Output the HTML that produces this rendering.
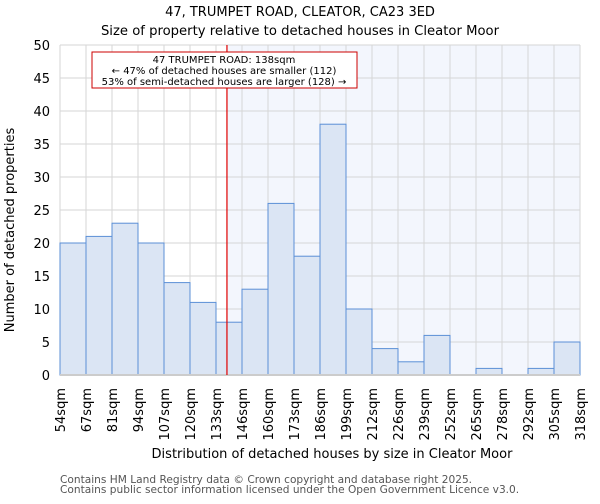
<!DOCTYPE html>
<html><head><meta charset="utf-8"><style>
body{margin:0;background:#fff;font-family:"DejaVu Sans","Liberation Sans",sans-serif}
</style></head><body>
<svg width="600" height="500" font-family="DejaVu Sans, Liberation Sans, sans-serif">
<text x="300" y="16" text-anchor="middle" font-size="13">47, TRUMPET ROAD, CLEATOR, CA23 3ED</text>
<text x="300" y="35" text-anchor="middle" font-size="13.2">Size of property relative to detached houses in Cleator Moor</text>
<g id="plot"></g>
<text x="332" y="458" text-anchor="middle" font-size="13">Distribution of detached houses by size in Cleator Moor</text>
<text transform="translate(14,230) rotate(-90)" text-anchor="middle" font-size="13">Number of detached properties</text>
<text x="60" y="483" font-size="10.6" fill="#555">Contains HM Land Registry data © Crown copyright and database right 2025.</text>
<text x="60" y="493" font-size="10.6" fill="#555">Contains public sector information licensed under the Open Government Licence v3.0.</text>
</svg>
<script>
const binEdges=["54sqm","67sqm","81sqm","94sqm","107sqm","120sqm","133sqm","146sqm","160sqm","173sqm","186sqm","199sqm","212sqm","226sqm","239sqm","252sqm","265sqm","278sqm","292sqm","305sqm","318sqm"];
const counts=[20,21,23,20,14,11,8,13,26,18,38,10,4,2,6,0,1,0,1,5];
const yTicks=[0,5,10,15,20,25,30,35,40,45,50];
const markerSqm=138;
const minSqm=54, maxSqm=318;
const X0=60,X1=580,Y0=375,Y1=45;
const ns="http://www.w3.org/2000/svg";
const g=document.getElementById('plot');
const y=v=>Y0-(v/50)*(Y0-Y1);
const bw=(X1-X0)/counts.length;
const xi=i=>X0+i*bw;
const xs=s=>X0+(s-minSqm)/(maxSqm-minSqm)*(X1-X0)+1.5;
function mk(t,a){const e=document.createElementNS(ns,t);for(const k in a)e.setAttribute(k,a[k]);g.appendChild(e);return e;}
const mx=xs(markerSqm);
let bg=mk('rect',{x:mx,y:Y1,width:X1-mx,height:Y0-Y1,fill:'#f3f6fd'});


yTicks.forEach(t=>{
 let l=mk('line',{x1:X0,x2:X1,y1:y(t),y2:y(t),stroke:'#d6d6d6'});
 
 
 let tx=mk('text',{x:X0-10,y:y(t)+5,'text-anchor':'end','font-size':13});
 tx.textContent=t;
 
 
});
binEdges.forEach((s,i)=>{
 let l=mk('line',{x1:xi(i),x2:xi(i),y1:Y1,y2:Y0,stroke:'#d6d6d6'});
 
 
 let tx=mk('text',{transform:`translate(${xi(i)+5},388) rotate(-90)`,'text-anchor':'end','font-size':13});
 tx.textContent=s;
 
 
});
counts.forEach((c,i)=>{
 let r=mk('rect',{x:xi(i),y:y(c),width:bw,height:Y0-y(c),fill:'#dbe5f4',stroke:'#5b8fd6','stroke-width':1});
 
 
});
let ax=mk('line',{x1:X0,x2:X1,y1:Y0,y2:Y0,stroke:'#ccc','stroke-width':2});


let ml=mk('line',{x1:mx,x2:mx,y1:Y1,y2:Y0,stroke:'#e00000','stroke-width':1.2});


let box=mk('rect',{x:92,y:52,width:265,height:36,fill:'#fff',stroke:'#c00','stroke-width':1});


["47 TRUMPET ROAD: 138sqm","← 47% of detached houses are smaller (112)","53% of semi-detached houses are larger (128) →"].forEach((s,k)=>{
 let t=mk('text',{x:224,y:63+k*11,'text-anchor':'middle','font-size':10});
 t.textContent=s;
 
 
});
</script>
</body></html>
